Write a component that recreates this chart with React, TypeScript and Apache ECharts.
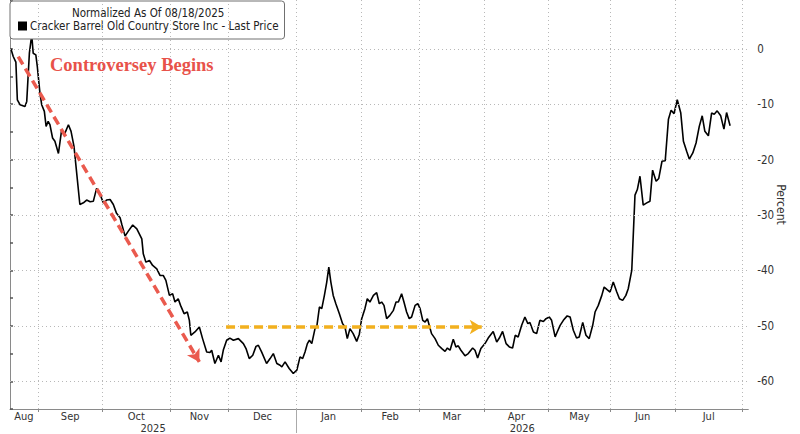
import React, { useEffect, useRef } from "react";
import * as echarts from "echarts";

// ---- data (x = trading-day index since 08/18/2025, y = % change) ----
const dayIndex = [
  0.3, 1.1, 2.0, 2.5, 3.4, 5.1, 5.7, 6.6, 7.4, 7.9, 8.8, 9.3, 10.2, 10.8, 11.7, 12.3, 13.0, 13.6, 14.5, 15.3,
  16.5, 17.6, 18.5, 19.9, 20.8, 21.8, 23.8, 25.0, 26.1, 27.3, 28.4, 29.5, 30.7, 31.8, 32.9, 34.1, 35.2, 36.3, 37.5,
  38.1, 39.2, 40.3, 41.8, 43.2, 44.9, 45.4, 46.3, 47.5, 48.6, 50.0, 51.1, 52.2, 53.1, 54.3, 55.4, 56.2, 57.3, 58.1,
  59.3, 60.4, 61.1, 61.6, 63.0, 64.5, 65.6, 67.0, 68.1, 68.7, 69.8, 71.0, 71.9, 72.7, 73.8, 74.9, 76.1, 77.8,
  79.5, 80.4, 81.5, 82.7, 83.8, 84.6, 85.7, 87.4, 88.6, 89.7, 90.9, 92.0, 92.6, 93.7, 95.1, 96.5, 97.7, 98.8,
  99.7, 100.5, 101.3, 102.0, 102.8, 103.9, 104.5, 105.4, 106.2, 107.1, 107.9, 108.6, 109.3, 110.1, 111.0, 112.2,
  113.3, 114.1, 114.9, 115.8, 116.9, 118.1, 119.0,
  119.8, 120.9, 121.7, 122.6, 123.8, 124.9, 125.8, 126.6, 127.4, 128.3, 129.4, 130.6, 131.5, 132.3, 133.4, 134.2,
  135.1, 136.0, 136.8, 138.0, 138.9, 139.7, 140.6, 141.4, 142.2, 142.8, 143.6, 144.8, 145.9, 147.1, 148.2, 149.0,
  149.9, 151.0, 151.9, 152.7, 153.6, 155.0, 156.1, 157.6, 158.4, 159.3, 160.4, 161.8, 162.9,
  164.6, 165.8, 166.7, 167.8, 169.0, 170.1, 171.2, 172.1, 173.1, 174.3, 175.4, 176.4, 177.1, 178.3, 179.4, 180.5,
  181.7, 182.6, 183.7, 184.5, 185.7, 186.4, 187.4, 188.5, 189.8, 190.8, 191.9, 193.0, 193.9, 195.1, 196.2, 197.3,
  198.5, 199.3, 200.4, 201.6, 202.4, 203.5, 204.4, 205.5, 206.7, 207.6,
  208.7, 209.8, 210.6, 211.8, 212.9, 213.7, 214.6, 215.7, 216.9, 218.0, 218.9, 220.1, 221.0, 222.1, 223.2, 224.3,
  225.2, 226.2, 227.3, 228.5, 229.4, 230.5, 231.4, 232.6, 233.7, 234.8, 235.8, 236.7, 237.9, 239.0, 239.9, 240.9,
  242.1, 243.2, 244.1, 245.3,
];
const pctChange = [
  0, -1.4, -2.4, -9.2, -10.1, -10.4, -9.5, -0.8, 2.5, -0.8, -1.1, -3.2, -8, -10.1, -11.3, -14, -13.1, -13.7, -16.1, -16.7,
  -18.9, -14.6, -15.5, -13.7, -14.9, -17.6, -28.1, -27.8, -27.3, -27.6, -27.5, -25.2, -26.3, -27.8, -27.3, -27.2, -28.1, -29.7, -30.5,
  -31.7, -33.8, -32.9, -31.8, -32.5, -34.3, -37, -38.5, -38.2, -39.1, -39.7, -40.9, -40.9, -41.8, -44.5, -44.2, -45.7, -45.1, -46.3,
  -47.8, -47.5, -49, -51.7, -51.1, -50.2, -52.3, -54.7, -54.8, -54.4, -56.8, -55.3, -56.5, -54.3, -52.6, -52.2, -52.6, -52.3,
  -53.2, -54.1, -55.9, -55.3, -53.7, -53.5, -54.7, -56.8, -55.9, -55, -56.8, -57.1, -57.4, -56.5, -57.7, -58.6, -58, -55.6,
  -55.9, -54.7, -53.2, -52.6, -53.2, -50.5, -50.2, -46.6, -46.9, -44.5, -42.1, -39.4, -42.1, -44.5, -46, -47.8,
  -49.6, -50.2, -52.3, -50.5, -51.4, -52.8, -51.5,
  -48.7, -46.9, -45.1, -45.7, -44.5, -44, -46, -45.7, -46.3, -48.7, -48.1, -47.2, -45.7, -45.7, -44.2, -45.7,
  -47.5, -48.7, -48.4, -46.3, -46, -46.9, -49, -49.3, -48.7, -49.9, -51.4, -52.3, -53.5, -54.1, -54.6, -54,
  -54.4, -52.4, -53.8, -53.6, -54.4, -55.4, -55, -54, -54.4, -55.8, -54.1, -53.2, -52.2,
  -51, -52.9, -52.2, -51, -53.2, -53.8, -54, -51.7, -52, -49.9, -48.4, -49.6, -49.4, -51.1, -51.4, -49,
  -49.2, -48.7, -48.4, -49, -52, -51.1, -49.9, -49, -48.2, -48.4, -50.8, -52.2, -52, -49.4, -51.7, -52.3,
  -49.9, -47.5, -46.3, -44.5, -43, -43.5, -43.9, -42.1, -43.9, -45.1,
  -45.4, -44.5, -43.3, -40, -26.4, -25.4, -23, -28.2, -27.8, -27.5, -21.9, -23.9, -23.4, -20.3, -20.2, -12.7,
  -11.1, -11.7, -9.2, -11.6, -16.7, -18.5, -19.9, -18.8, -17, -14, -12.1, -14.9, -15.7, -11.6, -11.8, -11.2,
  -12.1, -14.5, -11.5, -13.9,
];

// axis layout in trading days
const xStart = 0;
const xEnd = 251.5;
const monthTicks = [9.5, 31.5, 54.5, 74.5, 97.5, 119.5, 139.5, 161.5, 183.5, 204.5, 226.5, 249.5];
const monthLabels = ["Aug", "Sep", "Oct", "Nov", "Dec", "Jan", "Feb", "Mar", "Apr", "May", "Jun", "Jul"];
const yearBreaks = [97.5];
const yearLabels = ["2025", "2026"];
const yMin = -65;
const yMax = 8.8;
const gridLevels = [0, -10, -20, -30, -40, -50, -60];

// annotations (data space)
const redArrow = [[2.8, -1.4], [64.5, -56.5]];
const yellowArrow = [[73.6, -50.2], [160.7, -50.2]];
const annotationText = "Controversey Begins";
const legendHeader = "Normalized As Of 08/18/2025";
const seriesName = "Cracker Barrel Old Country Store Inc - Last Price";

const FONT = '"DejaVu Sans Condensed", "Liberation Sans", sans-serif';

export default function App() {
  const ref = useRef<HTMLDivElement>(null);
  useEffect(() => {
    if (!ref.current) return;
    const chart = echarts.init(ref.current, undefined, { renderer: "svg" });

    const bounds = [xStart, ...monthTicks];
    const monthMids = monthLabels.map((_, i) => (bounds[i] + (i + 1 < bounds.length ? bounds[i + 1] : xEnd)) / 2);
    const yb = [xStart, ...yearBreaks, xEnd];
    const yearMids = yearLabels.map((_, i) => (yb[i] + yb[i + 1]) / 2);
    const findLabel = (mids: number[], labels: string[], v: number) => {
      const i = mids.findIndex((m) => Math.abs(m - v) < 1e-6);
      return i >= 0 ? labels[i] : "";
    };

    const gridStyle = { color: "#b8b8b8", width: 1, type: [1, 3] as any };

    chart.setOption({
      animation: false,
      backgroundColor: "#ffffff",
      grid: { left: 10, right: 51.7, top: 0, bottom: 25 },
      legend: {
        data: [seriesName],
        left: 10,
        top: 1,
        padding: [19, 6, 7, 8],
        backgroundColor: "#ffffff",
        borderColor: "#707070",
        borderWidth: 1,
        borderRadius: 3,
        icon: "rect",
        itemWidth: 9,
        itemHeight: 9,
        itemGap: 0,
        textStyle: { fontFamily: FONT, fontSize: 11.5, lineHeight: 12, color: "#222", padding: [0, 0, 0, -2] },
        selectedMode: false,
      },
      xAxis: [
        {
          type: "value",
          min: xStart,
          max: xEnd,
          position: "bottom",
          axisLine: { show: true, onZero: false, lineStyle: { color: "#8a8a8a", width: 1 } },
          axisTick: { show: true, customValues: monthTicks, length: 3, lineStyle: { color: "#8a8a8a" } },
          axisLabel: {
            show: true,
            customValues: monthMids,
            margin: 2,
            fontFamily: FONT,
            fontSize: 11,
            lineHeight: 11,
            color: "#333",
            formatter: (v: number) => findLabel(monthMids, monthLabels, v),
          },
          splitLine: { show: false },
        },
        {
          type: "value",
          min: xStart,
          max: xEnd,
          position: "bottom",
          axisLine: { show: false, onZero: false },
          axisTick: { show: true, customValues: yearBreaks, length: 24, lineStyle: { color: "#aaaaaa" } },
          axisLabel: {
            show: true,
            customValues: yearMids,
            margin: 14,
            fontFamily: FONT,
            fontSize: 11,
            lineHeight: 11,
            color: "#333",
            formatter: (v: number) => findLabel(yearMids, yearLabels, v),
          },
          splitLine: { show: false },
        },
      ],
      yAxis: {
        type: "value",
        position: "right",
        min: yMin,
        max: yMax,
        interval: 5,
        name: "Percent",
        nameLocation: "middle",
        nameRotate: -90,
        nameGap: 27,
        nameMoveOverlap: false,
        nameTextStyle: { fontFamily: FONT, fontSize: 12, color: "#333" },
        axisLine: { show: true, lineStyle: { color: "#8a8a8a", width: 1 } },
        axisTick: { show: true, length: 3, lineStyle: { color: "#555", width: 1.5 } },
        axisLabel: {
          margin: 9,
          fontFamily: FONT,
          fontSize: 11.5,
          color: "#333",
          formatter: (v: number) => (Math.abs(v % 10) < 1e-9 && v <= 0 ? String(v) : ""),
        },
        splitLine: { show: false },
      },
      graphic: [
        {
          type: "text",
          left: 72,
          top: 7,
          z: 10,
          style: { text: legendHeader, font: `11.5px ${FONT}`, lineHeight: 12, fill: "#222" },
        },
        {
          type: "text",
          left: 50,
          top: 55,
          z: 10,
          style: { text: annotationText, font: 'bold 18.5px "Liberation Serif", "DejaVu Serif", serif', fill: "#e8524a" },
        },
      ],
      series: [
        {
          name: seriesName,
          type: "line",
          xAxisIndex: 0,
          data: dayIndex.map((d, i) => [d, pctChange[i]]),
          showSymbol: false,
          itemStyle: { color: "#000000" },
          lineStyle: { color: "#000000", width: 1.6 },
          z: 3,
          markLine: {
            silent: true,
            symbol: ["none", "none"],
            label: { show: false },
            animation: false,
            data: [
              ...gridLevels.map((v) => ({ yAxis: v, lineStyle: gridStyle })),
              ...monthTicks.map((v) => ({ xAxis: v, lineStyle: gridStyle })),
              [
                { coord: redArrow[0], symbol: "none" },
                {
                  coord: redArrow[1],
                  symbol: "arrow",
                  symbolSize: [11, 12],
                  lineStyle: { color: "#ea5a4e", width: 3.5, type: [9, 5] as any },
                  itemStyle: { color: "#ea5a4e" },
                },
              ],
              [
                { coord: yellowArrow[0], symbol: "none" },
                {
                  coord: yellowArrow[1],
                  symbol: "arrow",
                  symbolSize: [11, 12],
                  lineStyle: { color: "#f2b01e", width: 3.5, type: [9, 5] as any },
                  itemStyle: { color: "#f2b01e" },
                },
              ],
            ],
          },
        },
      ],
    });
    return () => chart.dispose();
  }, []);
  return (
    <div
      ref={ref}
      style={{ position: "fixed", left: 0, top: 0, width: 800, height: 434, background: "#fff" }}
    />
  );
}
